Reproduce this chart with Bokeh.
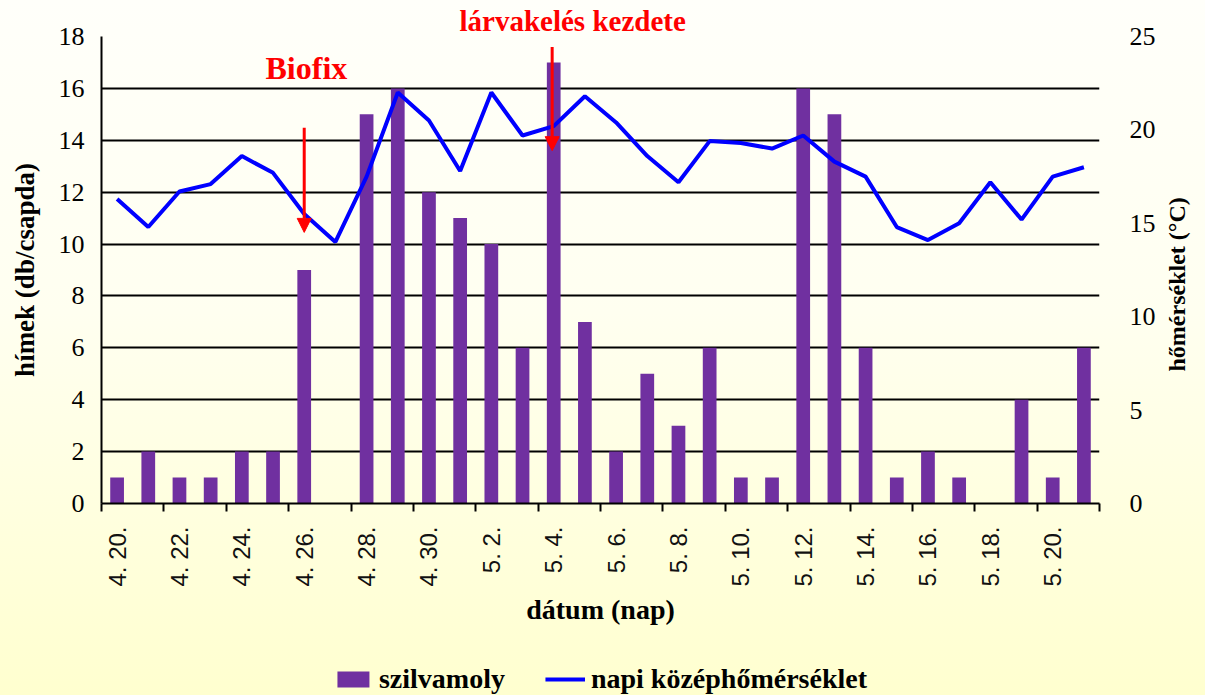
import math
from bokeh.plotting import figure
from bokeh.layouts import column
from bokeh.models import (ColumnDataSource, Range1d, LinearAxis, FixedTicker, Legend, LegendItem,
                          Label, Arrow, NormalHead)
from bokeh.embed import file_html
from bokeh.resources import INLINE

# ---- data ----
dates = ["4. 20.", "4. 21.", "4. 22.", "4. 23.", "4. 24.", "4. 25.", "4. 26.", "4. 27.",
         "4. 28.", "4. 29.", "4. 30.", "5. 1.", "5. 2.", "5. 3.", "5. 4.", "5. 5.",
         "5. 6.", "5. 7.", "5. 8.", "5. 9.", "5. 10.", "5. 11.", "5. 12.", "5. 13.",
         "5. 14.", "5. 15.", "5. 16.", "5. 17.", "5. 18.", "5. 19.", "5. 20.", "5. 21."]
males = [1, 2, 1, 1, 2, 2, 9, 0, 15, 16, 12, 11, 10, 6, 17, 7,
         2, 5, 3, 6, 1, 1, 16, 15, 6, 1, 2, 1, 0, 4, 1, 6]
temps = [16.3, 14.8, 16.7, 17.1, 18.6, 17.7, 15.5, 14.0, 17.5, 22.0, 20.5, 17.8, 22.0, 19.7, 20.2, 21.8,
         20.4, 18.6, 17.2, 19.4, 19.3, 19.0, 19.7, 18.3, 17.5, 14.8, 14.1, 15.0, 17.2, 15.2, 17.5, 18.0]
left_ticks = [0, 2, 4, 6, 8, 10, 12, 14, 16, 18]
right_ticks = [0, 5, 10, 15, 20, 25]
events = ["Biofix", "lárvakelés kezdete"]
event_day = [6, 14]
series_names = ["szilvamoly", "napi középhőmérséklet"]

n = len(dates)
xs = [i + 0.5 for i in range(n)]
src = ColumnDataSource(dict(x=xs, males=males, temps=temps))

SERIF = "Liberation Serif"
red = "#FF0000"
BAR_COLOR = "#7030A0"
LINE_COLOR = "#0000FF"

fig = figure(frame_width=998, frame_height=467, x_range=Range1d(0, n), y_range=Range1d(0, 18),
             output_backend="svg", toolbar_location=None,
             min_border_left=101, min_border_right=106, min_border_top=36, min_border_bottom=145)
fig.extra_y_ranges = {"temp": Range1d(0, 25)}

fig.border_fill_alpha = 0
fig.background_fill_alpha = 0
fig.outline_line_color = None

# event label above the frame, as the plot title
fig.title.text = events[1]
fig.title.align = "left"
fig.title.offset = 358
fig.title.standoff = 0
fig.title.text_font = SERIF
fig.title.text_font_style = "bold"
fig.title.text_font_size = "29px"
fig.title.text_color = red

# grid
fig.xgrid.visible = False
fig.ygrid.ticker = FixedTicker(ticks=left_ticks)
fig.ygrid.grid_line_color = "black"
fig.ygrid.grid_line_width = 2

fig.vbar(x="x", top="males", width=0.44, source=src, fill_color=BAR_COLOR, line_color=None)
fig.line(x="x", y="temps", source=src, y_range_name="temp", line_color=LINE_COLOR, line_width=4)

# x axis
xa = fig.xaxis[0]
xa.ticker = FixedTicker(ticks=[xs[i] for i in range(0, n, 2)], minor_ticks=list(range(0, n + 1, 2)))
xa.major_label_overrides = {xs[i]: dates[i] for i in range(0, n, 2)}
xa.major_label_orientation = math.pi / 2
xa.major_tick_line_alpha = 0
xa.major_tick_out = 0
xa.major_tick_in = 0
xa.minor_tick_out = 8
xa.minor_tick_in = 0
xa.minor_tick_line_width = 2
xa.minor_tick_line_color = "black"
xa.axis_line_width = 2
xa.axis_line_color = "black"
xa.major_label_standoff = 15
xa.major_label_text_font = "Liberation Sans"
xa.major_label_text_font_size = "24px"
xa.major_label_text_color = "#111111"
xa.axis_label = "dátum (nap)"
xa.axis_label_text_font = SERIF
xa.axis_label_text_font_style = "bold"
xa.axis_label_text_font_size = "28px"
xa.axis_label_text_color = "black"
xa.axis_label_standoff = 4

# left axis
ya = fig.yaxis[0]
ya.ticker = FixedTicker(ticks=left_ticks)
ya.major_tick_out = 0
ya.major_tick_in = 0
ya.minor_tick_line_color = None
ya.axis_line_width = 2
ya.axis_line_color = "black"
ya.major_label_standoff = 17
ya.major_label_text_font = SERIF
ya.major_label_text_font_size = "26px"
ya.major_label_text_color = "black"
ya.axis_label = "hímek (db/csapda)"
ya.axis_label_text_font = SERIF
ya.axis_label_text_font_style = "bold"
ya.axis_label_text_font_size = "27px"
ya.axis_label_text_color = "black"
ya.axis_label_standoff = 16

# right axis
right_label = "hőmérséklet (°C)"
ra = LinearAxis(y_range_name="temp", ticker=FixedTicker(ticks=right_ticks))
ra.axis_line_color = None
ra.major_tick_line_color = None
ra.minor_tick_line_color = None
ra.major_tick_out = 0
ra.major_tick_in = 0
ra.major_label_standoff = 30
ra.major_label_text_font = SERIF
ra.major_label_text_font_size = "26px"
ra.major_label_text_color = "black"
ra.axis_label_text_font = SERIF
ra.axis_label_text_font_style = "bold"
ra.axis_label_text_font_size = "24px"
ra.axis_label_text_color = "black"
ra.axis_label_standoff = 18
ra.axis_label = right_label
try:
    ra.axis_label_orientation = math.pi / 2
    ra.axis_label_align = "start"
    ra.axis_label = "\u00a0" * 22 + right_label
except Exception:
    ra.axis_label = right_label
fig.add_layout(ra, "right")

# annotations
fig.add_layout(Arrow(x_start=event_day[0] + 0.5, y_start=14.48, x_end=event_day[0] + 0.5, y_end=10.45,
                     line_color=red, line_width=3,
                     end=NormalHead(size=14, fill_color=red, line_color=red)))
fig.add_layout(Arrow(x_start=event_day[1] + 0.45, y_start=17.6, x_end=event_day[1] + 0.45, y_end=13.6,
                     line_color=red, line_width=3,
                     end=NormalHead(size=14, fill_color=red, line_color=red)))
fig.add_layout(Label(x=event_day[0] + 0.57, y=16.1, text=events[0], text_align="center",
                     text_baseline="bottom", text_font=SERIF, text_font_style="bold",
                     text_font_size="32px", text_color=red))

# ---- legend strip below the chart (proxy glyphs kept outside its visible range) ----
leg = figure(width=1205, height=47, output_backend="svg", toolbar_location=None,
             min_border=0, x_range=Range1d(0, 1), y_range=Range1d(0, 1))
leg.axis.visible = False
leg.grid.visible = False
leg.outline_line_color = None
leg.border_fill_alpha = 0
leg.background_fill_alpha = 0
proxy = ColumnDataSource(dict(x=[-5, -4], top=[-5, -5], y=[-5, -5]))
lb = leg.vbar(x="x", top="top", bottom=-6, width=0.5, source=proxy, fill_color=BAR_COLOR, line_color=None)
ll = leg.line(x="x", y="y", source=proxy, line_color=LINE_COLOR, line_width=4)
legend = Legend(items=[LegendItem(label=series_names[0], renderers=[lb]),
                       LegendItem(label=series_names[1], renderers=[ll])],
                orientation="horizontal", location="bottom_center")
legend.background_fill_alpha = 0
legend.border_line_color = None
legend.label_text_font = SERIF
legend.label_text_font_style = "bold"
legend.label_text_font_size = "28px"
legend.label_text_color = "black"
legend.glyph_width = 40
legend.glyph_height = 20
legend.label_standoff = 6
legend.spacing = 40
legend.padding = 0
legend.margin = 0
leg.add_layout(legend, "center")

p = column(fig, leg, spacing=0,
           styles={"background-image": "linear-gradient(to bottom, #FFFFFA 0%, #FFFFF0 45%, #FFFFCF 100%)"})

open("out.html", "w").write(file_html(p, INLINE))
